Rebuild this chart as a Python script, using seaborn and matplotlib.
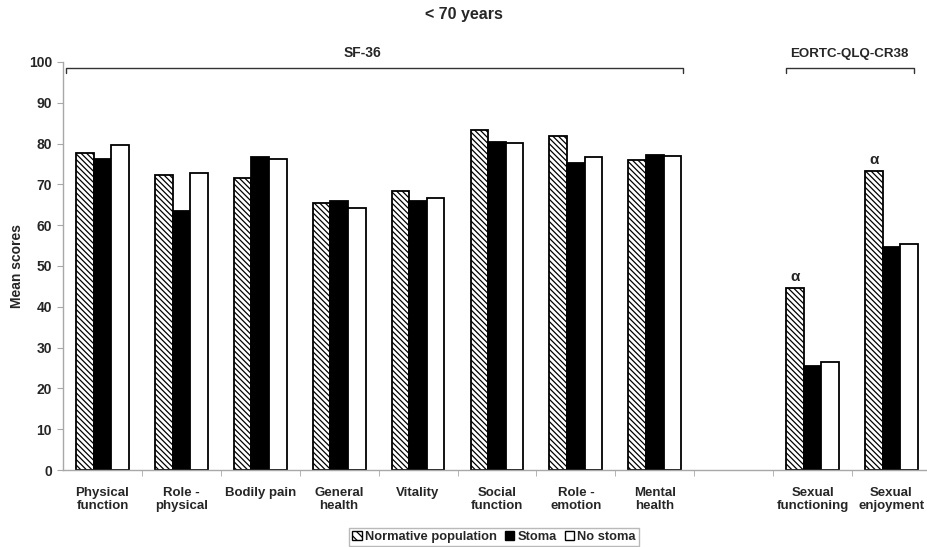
import matplotlib
matplotlib.use("Agg")
import matplotlib.pyplot as plt
import seaborn as sns
import pandas as pd
import numpy as np
from matplotlib.patches import Patch

# ---- data ----
categories = ["Physical\nfunction", "Role -\nphysical", "Bodily pain", "General\nhealth",
              "Vitality", "Social\nfunction", "Role -\nemotion", "Mental\nhealth",
              " ", "Sexual\nfunctioning", "Sexual\nenjoyment"]
data_categories = [c for c in categories if c.strip()]
series = ["Normative population", "Stoma", "No stoma"]
normative = [77.6, 72.4, 71.5, 65.5, 68.5, 83.3, 81.8, 76.0, 44.6, 73.3]
stoma = [76.2, 63.5, 76.8, 65.9, 66.0, 80.3, 75.2, 77.3, 25.6, 54.6]
no_stoma = [79.7, 72.7, 76.2, 64.2, 66.7, 80.2, 76.6, 77.0, 26.5, 55.5]
significant = ["Sexual\nfunctioning", "Sexual\nenjoyment"]
group_names = ["SF-36", "EORTC-QLQ-CR38"]

rows = []
for s, vals in zip(series, [normative, stoma, no_stoma]):
    for c, v in zip(data_categories, vals):
        rows.append({"category": c, "group": s, "score": v})
df = pd.DataFrame(rows)

sns.set_style("white")
plt.rcParams["font.family"] = ["Liberation Sans", "DejaVu Sans"]
plt.rcParams["hatch.linewidth"] = 0.9

fig = plt.figure(figsize=(9.28, 5.47), dpi=100)
W, H = 928, 547
slot = 78.9
ax = fig.add_axes([63 / W, (H - 470) / H, 11 * slot / W, 408 / H])

width = 0.67
sns.barplot(data=df, x="category", y="score", hue="group", order=categories,
            hue_order=series, palette=["white", "black", "white"],
            width=width, edgecolor="black", linewidth=1.3, ax=ax, legend=False)

HATCH = "\\\\\\\\\\\\"
for bar in ax.containers[0]:
    bar.set_hatch(HATCH)
    bar.set_facecolor("white")

ax.set_ylim(0, 100)
ax.set_xlim(-0.5, len(categories) - 0.5)
ax.set_yticks(range(0, 101, 10))
ax.set_ylabel("Mean scores", fontsize=10, fontweight="bold", labelpad=3)
ax.set_xlabel("")

gray = "#a8a8a8"
for sp in ["top", "right"]:
    ax.spines[sp].set_visible(False)
for sp in ["left", "bottom"]:
    ax.spines[sp].set_color(gray)
    ax.spines[sp].set_linewidth(1.0)

ax.tick_params(axis="y", which="major", direction="out", length=4, color=gray,
               labelsize=10, pad=4, left=True)
ax.set_xticks(range(len(categories)))
ax.set_xticklabels(categories)
ax.tick_params(axis="x", which="major", length=0, labelsize=9.5, pad=12)
ax.set_xticks(np.arange(0.5, len(categories) - 0.5, 1.0), minor=True)
ax.tick_params(axis="x", which="minor", direction="out", length=4, color=gray, bottom=True)
for lab in ax.get_xticklabels() + ax.get_yticklabels():
    lab.set_fontweight("bold")
    lab.set_linespacing(1.15)

# significance markers
off = width / 3
for c in significant:
    i = categories.index(c)
    v = normative[data_categories.index(c)]
    ax.annotate("α", (i - off, v), xytext=(0, 3), textcoords="offset points",
                ha="center", va="bottom", fontsize=11, fontweight="bold")

# group brackets
bracket_x = {"SF-36": (-0.46, 7.36, 3.30), "EORTC-QLQ-CR38": (8.66, 10.28, 9.47)}
for name in group_names:
    x0, x1, xc = bracket_x[name]
    ax.plot([x0, x0, x1, x1], [97.4, 98.5, 98.5, 97.4], color="#333333",
            lw=1.0, clip_on=False)
    ax.text(xc, 100.4, name, ha="center", va="bottom",
            fontsize=10 if name == "SF-36" else 9.6, fontweight="bold")

fig.text(0.5, 1 - 15 / H, "< 70 years", ha="center", va="center",
         fontsize=11.5, fontweight="bold")

handles = [Patch(facecolor="white", edgecolor="black", hatch="\\\\\\\\", linewidth=1.0),
           Patch(facecolor="black", edgecolor="black", linewidth=1.0),
           Patch(facecolor="white", edgecolor="black", linewidth=1.0)]
leg = fig.legend(handles, series, loc="center", bbox_to_anchor=(494 / W, 1 - 537 / H),
                 ncol=3, frameon=True, fancybox=False, handlelength=0.75,
                 handleheight=0.75, handletextpad=0.25, columnspacing=0.6,
                 borderpad=0.25, prop={"weight": "bold", "size": 9.3})
leg.get_frame().set_edgecolor(gray)
leg.get_frame().set_linewidth(1.0)

fig.savefig("out.png", dpi=100)
